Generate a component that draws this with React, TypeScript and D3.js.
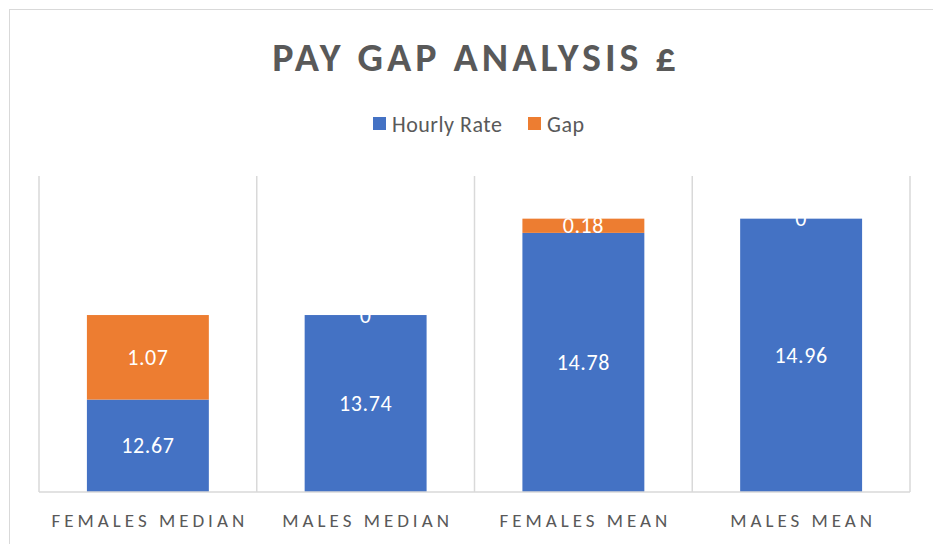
import React, { useEffect, useRef } from 'react';
import * as d3 from 'd3';

const categories = ['FEMALES MEDIAN', 'MALES MEDIAN', 'FEMALES MEAN', 'MALES MEAN'];
const hourlyRate = [12.67, 13.74, 14.78, 14.96];
const gap = [1.07, 0, 0.18, 0];
const seriesNames = ['Hourly Rate', 'Gap'];
const seriesColors = ['#4472c4', '#ed7d31'];
const yDomain = [11.5, 15.5];

const App = () => {
    const svgRef = useRef<SVGSVGElement>(null);

    useEffect(() => {
        const width = 933,
              height = 544,
              plot = { left: 39, right: 910, top: 176, bottom: 492 },
              font = 'Carlito, Calibri, Lato, sans-serif';

        const svg = d3.select(svgRef.current);
        svg.selectAll('*').remove();
        svg.attr('width', width).attr('height', height);

        // chart frame
        svg.append('rect')
            .attr('x', 9.5).attr('y', 9.5)
            .attr('width', 960).attr('height', 600)
            .attr('fill', '#fff')
            .attr('stroke', '#d9d9d9');

        const rows = categories.map((c, i) => ({ category: c, 'Hourly Rate': hourlyRate[i], Gap: gap[i] }));
        const stacked = d3.stack<any>().keys(seriesNames)(rows);

        const cells = d3.scaleBand().domain(categories).range([plot.left, plot.right]);
        const x = d3.scaleBand().domain(categories)
            .range([plot.left, plot.right])
            .paddingInner(0.44).paddingOuter(0.22);
        const y = d3.scaleLinear().domain(yDomain).range([plot.bottom, plot.top]);

        // vertical gridlines between categories
        const gridX = categories.map(c => cells(c)!).concat([plot.right]);
        svg.append('g')
            .attr('stroke', '#d9d9d9').attr('stroke-width', 1.5)
            .selectAll('line').data(gridX).enter().append('line')
            .attr('x1', d => d).attr('x2', d => d)
            .attr('y1', plot.top).attr('y2', plot.bottom);

        // bars
        const clipBottom = (v: number) => Math.max(v, yDomain[0]);
        stacked.forEach((layer, si) => {
            svg.append('g').attr('fill', seriesColors[si])
                .selectAll('rect').data(layer).enter().append('rect')
                .attr('x', d => x(d.data.category)!)
                .attr('width', x.bandwidth())
                .attr('y', d => y(d[1]))
                .attr('height', d => y(clipBottom(d[0])) - y(d[1]));
        });

        // axis line
        svg.append('line')
            .attr('x1', plot.left).attr('x2', plot.right)
            .attr('y1', plot.bottom).attr('y2', plot.bottom)
            .attr('stroke', '#d9d9d9').attr('stroke-width', 1.5);

        // data labels
        stacked.forEach((layer) => {
            svg.append('g')
                .selectAll('text').data(layer).enter().append('text')
                .attr('x', d => x(d.data.category)! + x.bandwidth() / 2)
                .attr('y', d => (y(clipBottom(d[0])) + y(d[1])) / 2)
                .attr('dy', '0.35em')
                .attr('text-anchor', 'middle')
                .attr('fill', '#fff')
                .style('font-family', font)
                .style('font-size', '22px')
                .style('letter-spacing', '0.6px')
                .text(d => +(d[1] - d[0]).toFixed(2));
        });

        // category labels
        svg.append('g')
            .selectAll('text').data(categories).enter().append('text')
            .attr('x', d => cells(d)! + cells.bandwidth() / 2 + 2)
            .attr('y', 520)
            .attr('dy', '0.35em')
            .attr('text-anchor', 'middle')
            .attr('fill', '#595959')
            .style('font-family', font)
            .style('font-size', '19px')
            .style('letter-spacing', '4px')
            .text(d => d);

        // title
        svg.append('text')
            .attr('x', 476).attr('y', 57)
            .attr('dy', '0.35em')
            .attr('text-anchor', 'middle')
            .attr('fill', '#595959')
            .style('font-family', font)
            .style('font-weight', 'bold')
            .style('font-size', '40px')
            .style('letter-spacing', '4px')
            .text('PAY GAP ANALYSIS £');

        // legend
        const legendX = [373, 528];
        const legend = svg.append('g')
            .selectAll('g').data(seriesNames).enter().append('g')
            .attr('transform', (d, i) => `translate(${legendX[i]},117)`);
        legend.append('rect')
            .attr('width', 13).attr('height', 13)
            .attr('fill', (d, i) => seriesColors[i]);
        legend.append('text')
            .attr('x', 19).attr('y', 7)
            .attr('dy', '0.35em')
            .attr('fill', '#595959')
            .style('font-family', font)
            .style('font-size', '22px')
            .style('letter-spacing', '0.5px')
            .text(d => d);
    }, []);

    return (
        <svg ref={svgRef} style={{ position: 'absolute', left: 0, top: 0 }}></svg>
    );
};

export default App;
